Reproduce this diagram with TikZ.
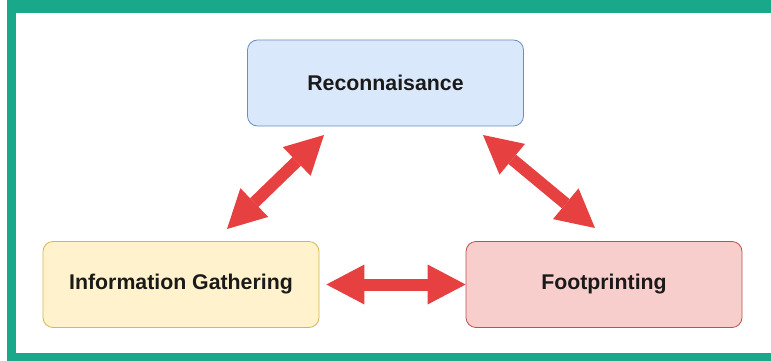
\documentclass[tikz,border=0pt]{standalone}
\usepackage{fontspec}
\setmainfont{Liberation Sans}
\usetikzlibrary{positioning,arrows.meta}
\definecolor{frameteal}{RGB}{26,168,138}
\definecolor{arrred}{RGB}{230,64,64}
\definecolor{txtdark}{RGB}{26,26,26}

\begin{document}
\begin{tikzpicture}[x=1pt, y=-1pt,
  box/.style={draw, line width=0.8pt, rounded corners=10pt, minimum width=276pt,
              minimum height=86pt, align=center, text=txtdark,
              font=\fontsize{21.3}{25}\selectfont\bfseries},
  arr/.style={arrred, line width=12pt,
              {Triangle[width=40pt, length=38pt, line width=0pt]}-{Triangle[width=40pt, length=38pt, line width=0pt]}},
  ]
  \useasboundingbox (0,0) rectangle (771,361);
  % frame
  \fill[frameteal] (7,-5) rectangle (780,370);
  \fill[white] (16,13) rectangle (780,353);

  \node[box, fill={rgb,255:red,218;green,232;blue,252}, draw={rgb,255:red,108;green,142;blue,191}]
    (recon) at (385.5,83) {Reconnaisance};
  \node[box, fill={rgb,255:red,255;green,242;blue,204}, draw={rgb,255:red,214;green,182;blue,86}]
    (info) at (181,284.5) {Information Gathering};
  \node[box, fill={rgb,255:red,248;green,206;blue,204}, draw={rgb,255:red,184;green,84;blue,80}]
    (foot) at (604,284.5) {Footprinting};

  \coordinate (infoup) at (227,229);
  \coordinate (reconleft) at (324,135);
  \coordinate (reconright) at (483,135);
  \coordinate (footup) at (595,228);

  \draw[arr] (infoup) -- (reconleft);
  \draw[arr] (reconright) -- (footup);
  \draw[arr, shorten <=7pt] (info) -- (foot);
\end{tikzpicture}
\end{document}
